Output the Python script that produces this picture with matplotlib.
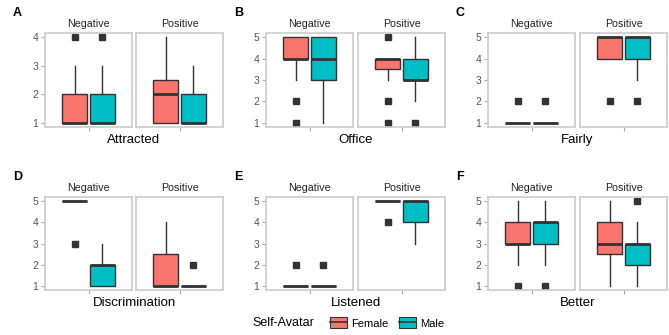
import matplotlib.pyplot as plt
from matplotlib.patches import Patch
from matplotlib.lines import Line2D
from matplotlib.legend_handler import HandlerTuple

plt.rcParams['font.family'] = ['Liberation Sans', 'DejaVu Sans']

FEMALE = "#F8766D"
MALE = "#00BFC4"

panels = ["A", "B", "C", "D", "E", "F"]
measures = ["Attracted", "Office", "Fairly", "Discrimination", "Listened", "Better"]
facets = ["Negative", "Positive"]
ymax = [4, 5, 5, 5, 5, 5]

# (q1, median, q3, whisker low, whisker high, outliers) for Female, Male
stats = {
    "A": {"Negative": [(1, 1, 2, 1, 3, [4]), (1, 1, 2, 1, 3, [4])],
          "Positive": [(1, 2, 2.5, 1, 4, []), (1, 1, 2, 1, 3, [])]},
    "B": {"Negative": [(4, 4, 5, 3, 5, [2, 1]), (3, 4, 5, 1, 5, [])],
          "Positive": [(3.5, 4, 4, 3, 4, [5, 2, 1]), (3, 3, 4, 2, 5, [1])]},
    "C": {"Negative": [(1, 1, 1, 1, 1, [2]), (1, 1, 1, 1, 1, [2])],
          "Positive": [(4, 5, 5, 4, 5, [2]), (4, 5, 5, 3, 5, [2])]},
    "D": {"Negative": [(5, 5, 5, 5, 5, [3]), (1, 2, 2, 1, 3, [])],
          "Positive": [(1, 1, 2.5, 1, 4, []), (1, 1, 1, 1, 1, [2])]},
    "E": {"Negative": [(1, 1, 1, 1, 1, [2]), (1, 1, 1, 1, 1, [2])],
          "Positive": [(5, 5, 5, 5, 5, [4]), (4, 5, 5, 3, 5, [])]},
    "F": {"Negative": [(3, 3, 4, 2, 5, [1]), (3, 4, 4, 2, 5, [1])],
          "Positive": [(2.5, 3, 4, 1, 5, []), (2, 3, 3, 1, 4, [5])]},
}

W, H = 669, 335
fig = plt.figure(figsize=(W / 100, H / 100), dpi=100)

# pixel layout: facet left edges per column, top edge per row
col_x = [(45, 136), (266, 358), (488, 580)]
fw = 87
row_y = [(33, 127), (197, 290)]


def pax(x0, y0, w, h):
    return fig.add_axes([x0 / W, 1 - (y0 + h) / H, w / W, h / H])


for i, p in enumerate(panels):
    r, c = divmod(i, 3)
    top, bot = row_y[r]
    for j, fac in enumerate(facets):
        ax = pax(col_x[c][j], top, fw, bot - top)
        bxs = []
        for (q1, med, q3, lo, hi, fl) in stats[p][fac]:
            bxs.append(dict(q1=q1, med=med, q3=q3, whislo=lo, whishi=hi, fliers=fl))
        arts = ax.bxp(bxs, positions=[0.81, 1.19], widths=0.34, patch_artist=True,
                      showcaps=False,
                      boxprops=dict(edgecolor="#333333", linewidth=1.0),
                      medianprops=dict(color="#333333", linewidth=2.0),
                      whiskerprops=dict(color="#333333", linewidth=1.0),
                      flierprops=dict(marker="s", markersize=4.2, markerfacecolor="#333333",
                                      markeredgecolor="#333333"))
        for patch, col in zip(arts["boxes"], [FEMALE, MALE]):
            patch.set_facecolor(col)
        lo_y, hi_y = 1, ymax[i]
        pad = (hi_y - lo_y) * 0.05
        ax.set_ylim(lo_y - pad, hi_y + pad)
        ax.set_xlim(0.4, 1.6)
        ax.set_xticks([1])
        ax.set_xticklabels([""])
        ax.tick_params(axis="x", length=3, color="#aaaaaa", width=0.8)
        for s in ax.spines.values():
            s.set_color("#cccccc")
            s.set_linewidth(1.2)
        if j == 0:
            ax.set_yticks(range(1, ymax[i] + 1))
            ax.tick_params(axis="y", length=3, color="#aaaaaa", width=0.8,
                           labelsize=7.5, labelcolor="#555555", pad=2)
        else:
            ax.set_yticks([])
        ax.set_title(fac, fontsize=7.7, color="#222222", pad=4)
    # panel letter and measure label
    fig.text((col_x[c][0] - 32) / W, 1 - (top - 20) / H, p, fontsize=9,
             fontweight="bold", ha="left", va="center")
    cx = (col_x[c][0] + col_x[c][1] + fw) / 2
    fig.text(cx / W, 1 - (bot + 13) / H, measures[i], fontsize=9.5,
             ha="center", va="center")

# legend
fig.text(252 / W, 1 - 323 / H, "Self-Avatar", fontsize=9, ha="left", va="center")
handles = [(Patch(facecolor=col, edgecolor="#333333", linewidth=0.8),
            Line2D([0, 1], [0.5, 0.5], color="#333333", linewidth=1.2))
           for col in [FEMALE, MALE]]
fig.legend(handles=handles, labels=["Female", "Male"], ncol=2, frameon=False,
           loc="center left", bbox_to_anchor=(320 / W, 1 - 323 / H),
           handler_map={tuple: HandlerTuple(ndivide=1)},
           fontsize=8, handlelength=1.5, handleheight=1.1, columnspacing=1.0,
           handletextpad=0.4)

fig.savefig("out.png", dpi=100)
